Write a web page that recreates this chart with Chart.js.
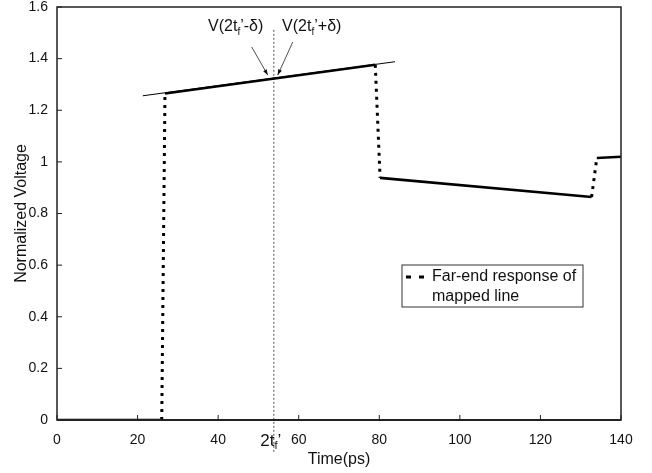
<!DOCTYPE html>
<html>
<head>
<meta charset="utf-8">
<script src="https://cdn.jsdelivr.net/npm/chart.js@4/dist/chart.umd.min.js"></script>
<style>
  html, body { margin: 0; padding: 0; background: #fff; }
  #wrap { width: 652px; height: 473px; position: relative; }
</style>
</head>
<body>
<div id="wrap"><canvas id="c"></canvas></div>
<script>
// far-end response, points joined in order; odd segments are the dotted jumps
var responseTime = [0, 26, 26.8, 79, 80.2, 132.7, 134, 140];
var responseVolt = [0, 0, 1.265, 1.376, 0.938, 0.864, 1.015, 1.02];

// thin tangent line over the first plateau
var tangentTime = [21.3, 83.9];
var tangentVolt = [1.256, 1.388];

// 2tf' marker
var markerTime = 53.8;
var markerVoltTop = 1.5;

var xTicks = [0, 20, 40, 60, 80, 100, 120, 140];
var yTicks = [0, 0.2, 0.4, 0.6, 0.8, 1, 1.2, 1.4, 1.6];

var legendText = ["Far-end response of", "mapped line"];

var FONT = "'Liberation Sans', Arial, sans-serif";

function toPoints(xs, ys) {
    var pts = [];
    for (var i = 0; i < xs.length; i++) {
        pts.push({ x: xs[i], y: ys[i] });
    }
    return pts;
}

// text with a subscript "f" : parts = [before, sub, after]
function drawSubText(ctx, parts, x, y, size, align) {
    ctx.textBaseline = "middle";
    ctx.textAlign = "left";
    ctx.font = size + "px " + FONT;
    var w0 = ctx.measureText(parts[0]).width;
    var w2 = ctx.measureText(parts[2]).width;
    ctx.font = Math.round(size * 0.62) + "px " + FONT;
    var w1 = ctx.measureText(parts[1]).width;
    var total = w0 + w1 + w2;
    var sx = align === "center" ? x - total / 2 : x;
    ctx.font = size + "px " + FONT;
    ctx.fillText(parts[0], sx, y);
    ctx.font = Math.round(size * 0.62) + "px " + FONT;
    ctx.fillText(parts[1], sx + w0, y + size * 0.3);
    ctx.font = size + "px " + FONT;
    ctx.fillText(parts[2], sx + w0 + w1, y);
}

function arrow(ctx, x1, y1, x2, y2) {
    ctx.beginPath();
    ctx.moveTo(x1, y1);
    ctx.lineTo(x2, y2);
    ctx.stroke();
    var a = Math.atan2(y2 - y1, x2 - x1);
    ctx.beginPath();
    ctx.moveTo(x2, y2);
    ctx.lineTo(x2 - 6 * Math.cos(a - 0.35), y2 - 6 * Math.sin(a - 0.35));
    ctx.lineTo(x2 - 6 * Math.cos(a + 0.35), y2 - 6 * Math.sin(a + 0.35));
    ctx.closePath();
    ctx.fill();
}

var extras = {
    id: "extras",
    beforeDatasetsDraw: function (chart) {
        var ctx = chart.ctx;
        var xs = chart.scales.x, ys = chart.scales.y;
        var mx = xs.getPixelForValue(markerTime);
        ctx.save();
        ctx.strokeStyle = "#888";
        ctx.lineWidth = 1.5;
        ctx.setLineDash([2, 2]);
        ctx.beginPath();
        ctx.moveTo(mx, ys.getPixelForValue(markerVoltTop) - 3);
        ctx.lineTo(mx, ys.getPixelForValue(0) + 32);
        ctx.stroke();
        ctx.restore();
    },
    afterDraw: function (chart) {
        var ctx = chart.ctx;
        var a = chart.chartArea;
        var xs = chart.scales.x, ys = chart.scales.y;
        ctx.save();
        ctx.strokeStyle = "#222";
        ctx.fillStyle = "#111";
        // frame
        ctx.lineWidth = 1.5;
        ctx.strokeRect(a.left, a.top, a.right - a.left, a.bottom - a.top);
        ctx.lineWidth = 2.2;
        ctx.beginPath();
        ctx.moveTo(a.left, a.bottom);
        ctx.lineTo(a.right, a.bottom);
        ctx.stroke();
        // inward ticks
        ctx.lineWidth = 1;
        xTicks.forEach(function (t) {
            var px = xs.getPixelForValue(t);
            ctx.beginPath();
            ctx.moveTo(px, a.bottom);
            ctx.lineTo(px, a.bottom - 5);
            ctx.stroke();
        });
        yTicks.forEach(function (t) {
            var py = ys.getPixelForValue(t);
            ctx.beginPath();
            ctx.moveTo(a.left, py);
            ctx.lineTo(a.left + 5, py);
            ctx.stroke();
        });
        // 2tf' label under the axis
        var mx = xs.getPixelForValue(markerTime);
        drawSubText(ctx, ["2t", "f", "\u2019"], mx - 3, a.bottom + 21, 17, "center");

        // annotations
        var mv = ys.getPixelForValue(tangentVolt[0] + (tangentVolt[1] - tangentVolt[0]) * (markerTime - tangentTime[0]) / (tangentTime[1] - tangentTime[0]));
        drawSubText(ctx, ["V(2t", "f", "\u2019-\u03b4)"], mx - 38, a.top + 20, 16, "center");
        drawSubText(ctx, ["V(2t", "f", "\u2019+\u03b4)"], mx + 38, a.top + 20, 16, "center");
        ctx.lineWidth = 0.8;
        arrow(ctx, mx - 22, a.top + 40, mx - 6, mv - 3);
        arrow(ctx, mx + 19, a.top + 35, mx + 4, mv - 3);

        // legend box
        var lx = 402, ly = 265, lw = 181, lh = 42;
        ctx.lineWidth = 1;
        ctx.strokeStyle = "#333";
        ctx.strokeRect(lx, ly, lw, lh);
        ctx.lineWidth = 3;
        ctx.strokeStyle = "#000";
        ctx.beginPath();
        ctx.moveTo(lx + 4, ly + 12); ctx.lineTo(lx + 9, ly + 12);
        ctx.moveTo(lx + 17, ly + 12); ctx.lineTo(lx + 22, ly + 12);
        ctx.stroke();
        ctx.font = "16px " + FONT;
        ctx.textAlign = "left";
        ctx.textBaseline = "middle";
        ctx.fillText(legendText[0], lx + 30, ly + 12);
        ctx.fillText(legendText[1], lx + 30, ly + 32);
        ctx.restore();
    }
};

var chart = new Chart(document.getElementById("c"), {
    type: "scatter",
    data: {
        datasets: [
            {
                data: toPoints(responseTime, responseVolt),
                showLine: true,
                borderColor: "#000",
                borderWidth: 2.6,
                pointRadius: 0,
                segment: {
                    borderDash: function (c) { return c.p0DataIndex % 2 === 1 ? [3, 5] : undefined; },
                    borderWidth: function (c) { return c.p0DataIndex % 2 === 1 ? 3 : 2.6; }
                }
            },
            {
                data: toPoints(tangentTime, tangentVolt),
                showLine: true,
                borderColor: "#000",
                borderWidth: 1,
                pointRadius: 0
            }
        ]
    },
    options: {
        responsive: true,
        maintainAspectRatio: false,
        animation: false,
        layout: { padding: { top: 7, right: 31, left: 12, bottom: 0 } },
        plugins: { legend: { display: false }, tooltip: { enabled: false } },
        scales: {
            x: {
                type: "linear",
                min: 0, max: 140,
                afterBuildTicks: function (s) { s.ticks = xTicks.map(function (v) { return { value: v }; }); },
                afterFit: function (s) { s.height = 53; },
                grid: { display: false, drawTicks: false },
                border: { display: false },
                ticks: { color: "#111", padding: 12, font: { family: FONT, size: 14 }, maxRotation: 0 },
                title: { display: true, text: "Time(ps)", color: "#111", padding: { top: 0 }, font: { family: FONT, size: 16 } }
            },
            y: {
                type: "linear",
                min: 0, max: 1.6,
                afterBuildTicks: function (s) { s.ticks = yTicks.map(function (v) { return { value: v }; }); },
                afterFit: function (s) { s.width = 45; s.paddingTop = 0; s.paddingBottom = 0; },
                grid: { display: false, drawTicks: false },
                border: { display: false },
                ticks: {
                    color: "#111", padding: 9, font: { family: FONT, size: 14 },
                    callback: function (v) { return String(Math.round(v * 10) / 10); }
                },
                title: { display: true, text: "Normalized Voltage", color: "#111", padding: { top: 0, bottom: 0 }, font: { family: FONT, size: 16 } }
            }
        }
    },
    plugins: [extras]
});
</script>
</body>
</html>
